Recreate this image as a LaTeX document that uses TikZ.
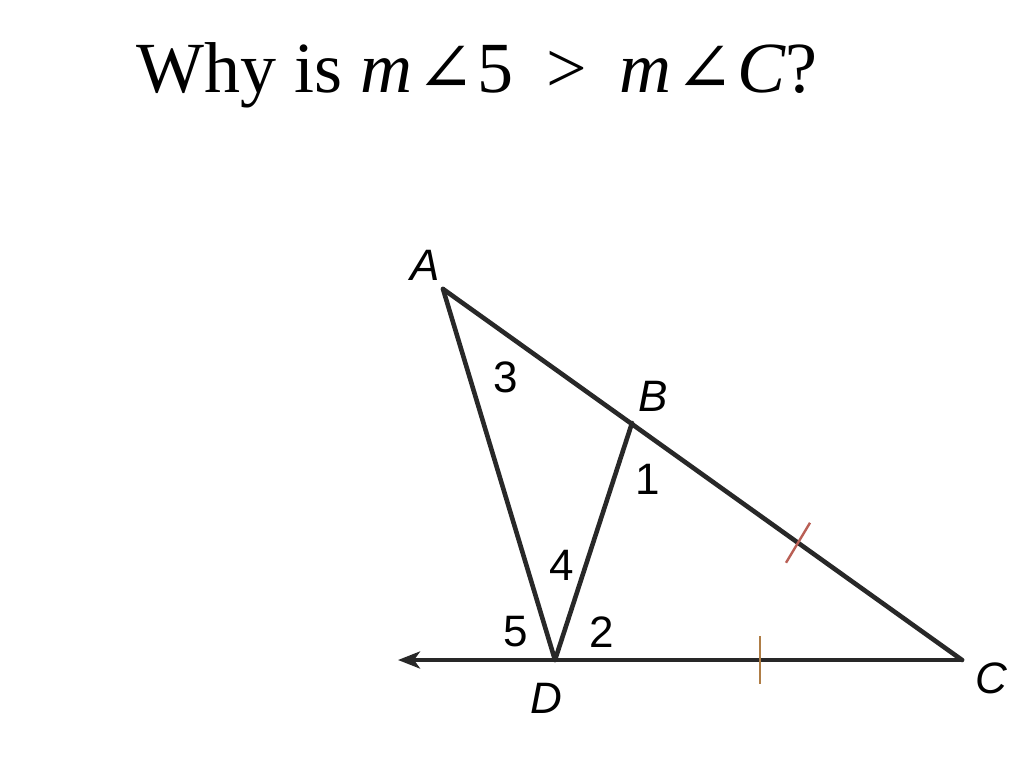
\documentclass[tikz,border=0pt]{standalone}
\usepackage{fontspec}
\setmainfont{Liberation Serif}
\newfontfamily\labelfont{Liberation Sans}
\newfontfamily\angfont{DejaVu Serif}
\usetikzlibrary{arrows.meta,calc}
\definecolor{linegray}{RGB}{40,40,40}
\definecolor{tickred}{RGB}{185,95,85}
\definecolor{tickorange}{RGB}{175,125,70}
\tikzset{
  seg/.style={draw=linegray, line width=4.6pt, line cap=round, line join=round},
  lbl/.style={font=\labelfont\fontsize{44}{44}\selectfont\itshape, text=black, inner sep=0pt},
  num/.style={font=\labelfont\fontsize{44}{44}\selectfont, text=black, inner sep=0pt},
  tick/.style={line width=2.4pt}
}
\newcommand{\myang}{\hspace{0.06em}{\angfont\fontsize{70}{70}\selectfont ∠}\hspace{0.04em}}
\begin{document}
\begin{tikzpicture}[x=1pt,y=-1pt]
\useasboundingbox (0,0) rectangle (1024,768);
% title
\node[anchor=base, inner sep=0pt, font=\fontsize{72}{72}\selectfont] (title) at (477,92) {Why is \textit{m}\myang5\hspace{0.45em}>\hspace{0.45em}\textit{m}\myang\textit{C}?};
% points
\coordinate (A) at (443,289);
\coordinate (B) at (632,423);
\coordinate (C) at (962,660);
\coordinate (D) at (555,660);
\coordinate (L) at (398,660);
\coordinate (T1) at ($(A)!0.684!(C)$);
% triangle
\draw[seg] (A) -- (C);
\draw[seg] (A) -- (D);
\draw[seg] (B) -- (D);
\draw[seg, -{Stealth[length=22pt,width=17pt,inset=6pt]}] (C) -- (L);
% ticks
\draw[tick, tickred] ($(T1)+(-12,20)$) -- ($(T1)+(12,-20)$);
\draw[tick, tickorange] (760,636) -- (760,684);
% labels
\node[lbl] (lA) at (425,265) {A};
\node[lbl] (lB) at (653,396) {B};
\node[lbl] (lC) at (991,678) {C};
\node[lbl] (lD) at (546,698) {D};
\node[num] (n3) at (506,377) {3};
\node[num] (n1) at (648,479) {1};
\node[num] (n4) at (562,565) {4};
\node[num] (n5) at (516,632) {5};
\node[num] (n2) at (602,632) {2};
\end{tikzpicture}
\end{document}
